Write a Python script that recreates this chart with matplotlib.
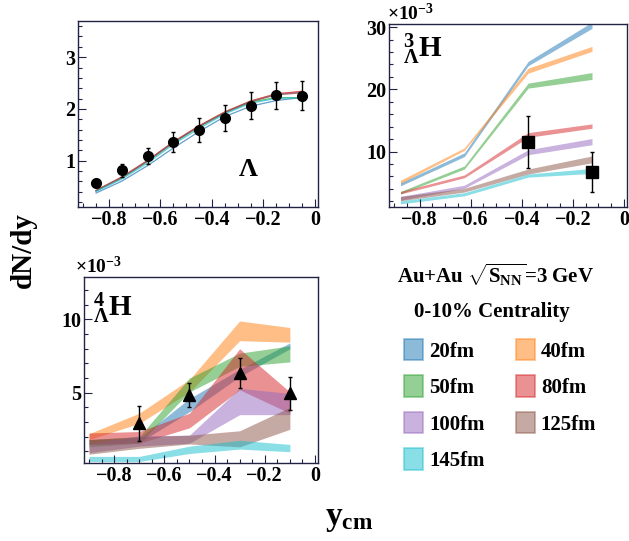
import matplotlib
matplotlib.use("Agg")
import matplotlib.pyplot as plt
from matplotlib.ticker import MultipleLocator, FuncFormatter
import numpy as np

plt.rcParams['font.family'] = ['Liberation Serif', 'DejaVu Serif']
plt.rcParams['font.weight'] = 'bold'
plt.rcParams['mathtext.fontset'] = 'custom'
plt.rcParams['mathtext.rm'] = 'Liberation Serif'
plt.rcParams['mathtext.bf'] = 'Liberation Serif:bold'
plt.rcParams['mathtext.it'] = 'Liberation Serif:italic'

labels = ['20fm', '40fm', '50fm', '80fm', '100fm', '125fm', '145fm']
colors = ['#1f77b4', '#ff7f0e', '#2ca02c', '#d62728', '#9467bd', '#8c564b', '#17becf']

# Lambda dN/dy (top left)
lam_x = [-0.85, -0.75, -0.65, -0.55, -0.45, -0.35, -0.25, -0.15, -0.05]
lam_y = [0.57, 0.81, 1.09, 1.36, 1.59, 1.83, 2.06, 2.26, 2.25]
lam_err = [0.05, 0.12, 0.16, 0.20, 0.23, 0.25, 0.26, 0.26, 0.28]
lam_model = [
    [0.37, 0.60, 0.90, 1.24, 1.56, 1.85, 2.05, 2.16, 2.22],
    [0.42, 0.68, 1.00, 1.36, 1.67, 1.94, 2.15, 2.29, 2.33],
    [0.41, 0.66, 0.98, 1.34, 1.65, 1.92, 2.13, 2.22, 2.21],
    [0.42, 0.68, 1.00, 1.36, 1.67, 1.94, 2.15, 2.29, 2.34],
    [0.41, 0.67, 0.99, 1.35, 1.66, 1.93, 2.14, 2.28, 2.32],
    [0.42, 0.67, 0.99, 1.35, 1.66, 1.93, 2.14, 2.27, 2.31],
    [0.40, 0.64, 0.95, 1.31, 1.62, 1.90, 2.11, 2.20, 2.22],
]

# 3LH (top right), units of 1e-3
h3_x = [-0.875, -0.625, -0.375, -0.125]
h3_lo = [
    [4.5, 9.2, 23.8, 29.8],
    [4.9, 10.2, 22.6, 26.1],
    [3.2, 7.2, 20.2, 21.6],
    [3.2, 5.8, 12.3, 13.75],
    [2.2, 4.1, 9.5, 11.1],
    [2.1, 3.5, 6.4, 8.2],
    [1.6, 2.9, 5.9, 6.5],
]
h3_hi = [
    [5.0, 9.8, 24.5, 30.8],
    [5.4, 10.6, 23.4, 26.9],
    [3.6, 7.7, 21.0, 22.7],
    [3.6, 6.25, 13.05, 14.45],
    [2.8, 4.6, 10.3, 12.1],
    [2.8, 4.1, 7.2, 9.3],
    [2.1, 3.4, 6.4, 7.3],
]
h3_dx = [-0.375, -0.125]
h3_dy = [11.5, 6.7]
h3_derr = [4.2, 3.2]

# 4LH (bottom left), units of 1e-3
h4_x = [-0.9, -0.7, -0.5, -0.3, -0.1]
h4_lo = [
    [1.5, 1.6, 3.7, 6.1, 8.0],
    [1.8, 2.9, 5.05, 8.55, 8.45],
    [1.3, 1.55, 5.05, 6.8, 7.1],
    [1.45, 1.55, 2.6, 5.2, 3.6],
    [0.9, 1.35, 1.55, 3.5, 3.5],
    [0.8, 1.2, 1.5, 1.3, 2.5],
    [0.3, 0.3, 0.85, 1.15, 0.97],
]
h4_hi = [
    [1.8, 1.9, 4.6, 6.6, 8.4],
    [2.2, 3.6, 5.9, 9.9, 9.45],
    [1.8, 2.0, 6.0, 7.7, 8.2],
    [2.25, 2.35, 3.6, 8.0, 5.05],
    [1.55, 2.05, 2.1, 5.3, 4.95],
    [1.8, 2.0, 2.1, 2.4, 4.0],
    [0.65, 0.65, 1.35, 1.75, 1.47],
]
h4_dx = [-0.7, -0.5, -0.3, -0.1]
h4_dy = [2.9, 4.85, 6.35, 4.95]
h4_derr = [1.2, 0.8, 1.0, 1.15]

W, H = 629, 541
fig = plt.figure(figsize=(W / 100, H / 100), dpi=100)


def px_axes(l, t, r, b):
    return fig.add_axes([l / W, 1 - b / H, (r - l) / W, (b - t) / H])


def fmt(v, pos):
    s = '%g' % round(v, 6)
    if s in ('-0', '0'):
        return '0'
    return s.replace('-', '\u2212')


def style(ax, ymaj, ymin):
    ax.set_xlim(-0.92, 0.012)
    ax.xaxis.set_major_locator(MultipleLocator(0.2))
    ax.xaxis.set_minor_locator(MultipleLocator(0.05))
    ax.yaxis.set_major_locator(MultipleLocator(ymaj))
    ax.yaxis.set_minor_locator(MultipleLocator(ymin))
    ax.xaxis.set_major_formatter(FuncFormatter(fmt))
    ax.yaxis.set_major_formatter(FuncFormatter(fmt))
    ax.tick_params(which='both', direction='in', top=False, right=False,
                   labelsize=14.5, pad=2, color='#222244', width=0.8)
    ax.tick_params(which='major', length=5.5)
    ax.tick_params(which='minor', length=2.8)
    for s in ax.spines.values():
        s.set_color('#222244')
        s.set_linewidth(1.0)


# top left: Lambda
ax1 = px_axes(78, 21, 318, 207)
for c, m in zip(colors, lam_model):
    ax1.plot(lam_x, m, color=c, lw=0.9, alpha=0.7)
ax1.errorbar(lam_x, lam_y, yerr=lam_err, fmt='o', color='black', ms=7,
             capsize=1.5, elinewidth=1, zorder=5)
ax1.set_ylim(0.1, 3.7)
style(ax1, 1, 0.2)
ax1.text(0.71, 0.20, '\u039b', transform=ax1.transAxes, fontsize=19,
         ha='center', va='center')

# top right: 3LH
ax2 = px_axes(389, 24, 627, 207)
for c, lo, hi in zip(colors, h3_lo, h3_hi):
    ax2.fill_between(h3_x, lo, hi, color=c, alpha=0.5, lw=0)
ax2.errorbar(h3_dx, h3_dy, yerr=h3_derr, fmt='s', color='black', ms=9,
             capsize=1.5, elinewidth=1, zorder=5)
ax2.set_ylim(1.1, 30.5)
style(ax2, 10, 2)
ax2.text(0.06, 0.86, r'$\mathbf{{}^{3}_{\Lambda}H}$', transform=ax2.transAxes,
         fontsize=21, ha='left', va='center')
ax2.text(-0.01, 1.0, r'$\times10^{-3}$', transform=ax2.transAxes, fontsize=14,
         ha='left', va='bottom', fontweight='normal')

# bottom left: 4LH
ax3 = px_axes(84, 277, 318, 463)
handles = []
for c, lo, hi, lab in zip(colors, h4_lo, h4_hi, labels):
    ax3.fill_between(h4_x, lo, hi, color=c, alpha=0.5, lw=0)
    handles.append(plt.Rectangle((0, 0), 1, 1, facecolor=c, alpha=0.5,
                                 edgecolor=c, lw=1.2, label=lab))
ax3.errorbar(h4_dx, h4_dy, yerr=h4_derr, fmt='^', color='black', ms=8,
             capsize=1.5, elinewidth=1, zorder=5)
ax3.set_ylim(0.2, 12.9)
style(ax3, 5, 1)
ax3.text(0.04, 0.83, r'$\mathbf{{}^{4}_{\Lambda}H}$', transform=ax3.transAxes,
         fontsize=21, ha='left', va='center')
ax3.text(-0.04, 1.0, r'$\times10^{-3}$', transform=ax3.transAxes, fontsize=14,
         ha='left', va='bottom', fontweight='normal')

# axis titles
fig.text(23 / W, 1 - 250 / H, 'dN/dy', rotation=90, fontsize=21,
         ha='center', va='center')
fig.text(349 / W, 1 - 518 / H, r'$\mathbf{y_{cm}}$', fontsize=24,
         ha='center', va='center')

# legend block
fig.text(496 / W, 1 - 275 / H, r'Au+Au $\mathbf{\sqrt{S_{NN}}}$=3 GeV',
         fontsize=15, ha='center', va='center')
fig.text(492 / W, 1 - 312 / H, '0-10% Centrality', fontsize=15,
         ha='center', va='center')
order = [0, 2, 4, 6, 1, 3, 5]
fig.legend([handles[i] for i in order], [labels[i] for i in order],
           loc='upper left', bbox_to_anchor=(404 / W, 1 - 339 / H), ncol=2,
           frameon=False, fontsize=15, handlelength=0.9, handleheight=1.2,
           handletextpad=0.3, labelspacing=0.66, columnspacing=1.5,
           borderpad=0, borderaxespad=0)

fig.savefig('out.png', dpi=100)
